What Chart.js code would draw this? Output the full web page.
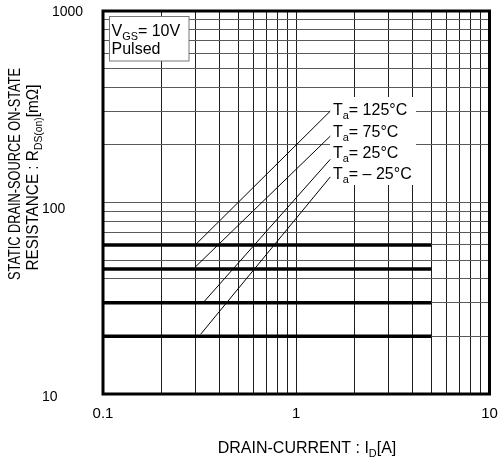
<!DOCTYPE html>
<html>
<head>
<meta charset="utf-8">
<script src="https://cdn.jsdelivr.net/npm/chart.js@4.4.1/dist/chart.umd.min.js"></script>
<style>
  html, body { margin: 0; padding: 0; background: #fff; }
  canvas { display: block; }
</style>
</head>
<body>
<canvas id="rdsChart" width="498" height="461"></canvas>
<script>
// R_DS(on) vs drain current, log-log

const FONT = '"Liberation Sans", Arial, Helvetica, sans-serif';

// axis ticks
const xTickValues = [0.1, 1, 10];
const xTickLabels = ['0.1', '1', '10'];
const yTickValues = [10, 100, 1000];
const yTickLabels = ['10', '100', '1000'];

// flat (thick) lines
const flatLevels = [60, 45, 30, 20];
const flatFrom = 0.1;
const flatTo = 5;

// temperature curves
const tempLabels = ['125°C', '75°C', '25°C', '– 25°C'];
const tempStartX = [0.3, 0.3, 0.33, 0.32];
const tempStartY = [60, 46, 30, 20.5];
const tempEndX = [1.5, 1.5, 1.5, 1.5];
const tempEndY = [300, 222, 168, 136];

// log grid: 1..9 in each decade
function logGrid(min, max) {
    const out = [];
    for (let d = min; d < max; d *= 10) {
        for (let k = 1; k < 10; k++) out.push(+(d * k).toPrecision(3));
    }
    out.push(max);
    return out;
}

const datasets = [];
flatLevels.forEach(v => {
    datasets.push({
        data: [{x: flatFrom, y: v}, {x: flatTo, y: v}],
        borderColor: '#000',
        borderWidth: 3.5,
        borderCapStyle: 'butt',
        pointRadius: 0
    });
});
tempLabels.forEach((t, i) => {
    datasets.push({
        data: [{x: tempStartX[i], y: tempStartY[i]}, {x: tempEndX[i], y: tempEndY[i]}],
        borderColor: '#000',
        borderWidth: 1,
        pointRadius: 0
    });
});

// text with subscripts: parts = [[text, isSub], ...]
function richWidth(ctx, parts, size) {
    let w = 0;
    parts.forEach(p => {
        ctx.font = (p[1] ? size * 0.68 : size) + 'px ' + FONT;
        w += ctx.measureText(p[0]).width;
    });
    return w;
}
function drawRich(ctx, parts, x, y, size) {
    let cx = x;
    parts.forEach(p => {
        const s = p[1] ? size * 0.68 : size;
        ctx.font = s + 'px ' + FONT;
        ctx.fillText(p[0], cx, p[1] ? y + size * 0.27 : y);
        cx += ctx.measureText(p[0]).width;
    });
}

const overlay = {
    id: 'overlay',
    beforeDatasetsDraw(chart) {
        const ctx = chart.ctx;
        ctx.save();
        // white box behind the temperature labels
        ctx.fillStyle = '#fff';
        ctx.fillRect(330, 97, 86, 88);
        // condition box
        ctx.fillRect(109.5, 16.5, 79.5, 44.5);
        ctx.strokeStyle = '#777';
        ctx.lineWidth = 1;
        ctx.strokeRect(109.5, 16.5, 79.5, 44.5);
        ctx.restore();
    },
    afterDraw(chart) {
        const ctx = chart.ctx;
        const a = chart.chartArea;
        const ys = chart.scales.y;
        ctx.save();
        ctx.fillStyle = '#000';
        ctx.textBaseline = 'alphabetic';
        ctx.textAlign = 'left';

        // frame
        ctx.strokeStyle = '#000';
        ctx.lineWidth = 3;
        ctx.strokeRect(a.left, a.top, a.right - a.left, a.bottom - a.top);

        // y tick labels
        const yLabelLeft = [42, 42, 52];
        const yLabelShift = [7, 10, 5];
        yTickValues.forEach((v, i) => {
            ctx.font = '14px ' + FONT;
            ctx.fillText(yTickLabels[i], yLabelLeft[i], ys.getPixelForValue(v) + yLabelShift[i]);
        });

        // conditions
        drawRich(ctx, [['V', 0], ['GS', 1], ['= 10V', 0]], 111.5, 35.5, 16);
        drawRich(ctx, [['Pulsed', 0]], 111.5, 54.3, 16);

        // temperature labels
        const labelBase = [114.5, 136.5, 158, 179];
        tempLabels.forEach((t, i) => {
            drawRich(ctx, [['T', 0], ['a', 1], ['= ' + t, 0]], 333, labelBase[i], 16);
        });

        // x title
        const xt = [['DRAIN-CURRENT : I', 0], ['D', 1], ['[A]', 0]];
        const xw = richWidth(ctx, xt, 16);
        drawRich(ctx, xt, 307 - xw / 2, 453, 16);

        // y title (two rotated lines, slightly condensed)
        const yLines = [
            {parts: [['STATIC DRAIN-SOURCE ON-STATE', 0]], base: 20, mid: 174, len: 212},
            {parts: [['RESISTANCE : R', 0], ['DS(on)', 1], ['[mΩ]', 0]], base: 38, mid: 177.5, len: 186}
        ];
        yLines.forEach(l => {
            const w = richWidth(ctx, l.parts, 16);
            const k = Math.min(1, l.len / w);
            ctx.save();
            ctx.translate(l.base, l.mid);
            ctx.rotate(-Math.PI / 2);
            ctx.scale(k, 1);
            drawRich(ctx, l.parts, -w / 2, 0, 16);
            ctx.restore();
        });
        ctx.restore();
    }
};

new Chart(document.getElementById('rdsChart'), {
    type: 'line',
    data: { datasets: datasets },
    options: {
        responsive: false,
        animation: false,
        layout: { padding: { left: 0, top: 11, right: 8.5, bottom: 0 } },
        plugins: {
            legend: { display: false },
            tooltip: { enabled: false }
        },
        scales: {
            x: {
                type: 'logarithmic',
                min: 0.1,
                max: 10,
                afterBuildTicks: s => { s.ticks = logGrid(0.1, 10).map(v => ({value: v})); },
                afterFit: s => { s.height = 67; s.paddingLeft = 0; s.paddingRight = 0; },
                grid: { color: '#1e1e1e', lineWidth: 1, drawTicks: false },
                border: { display: false },
                ticks: {
                    autoSkip: false,
                    maxRotation: 0,
                    padding: 11,
                    color: '#000',
                    font: { family: FONT, size: 15 },
                    callback: function(value) {
                        const i = xTickValues.findIndex(t => Math.abs(t - value) < 1e-9);
                        return i >= 0 ? xTickLabels[i] : '';
                    }
                }
            },
            y: {
                type: 'logarithmic',
                min: 10,
                max: 1000,
                afterBuildTicks: s => { s.ticks = logGrid(10, 1000).map(v => ({value: v})); },
                afterFit: s => { s.width = 103; s.paddingTop = 0; s.paddingBottom = 0; },
                grid: { color: '#5a5a5a', lineWidth: 1, drawTicks: false },
                border: { display: false },
                ticks: { display: false, autoSkip: false }
            }
        }
    },
    plugins: [overlay]
});
</script>
</body>
</html>
